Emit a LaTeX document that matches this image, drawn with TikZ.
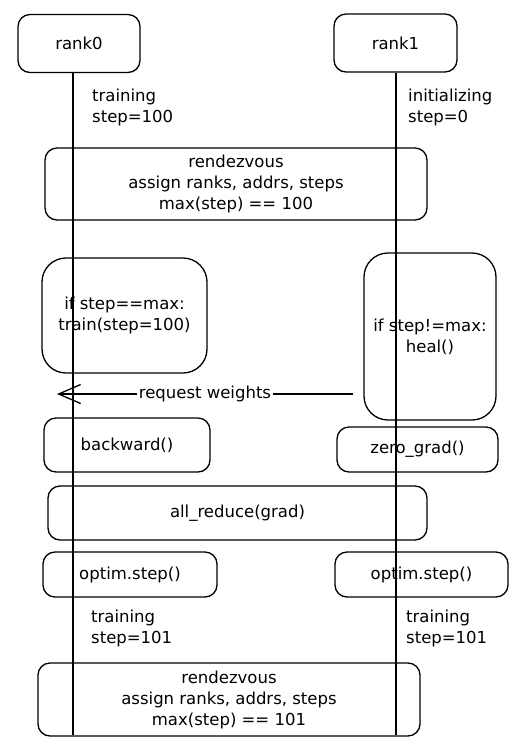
\documentclass[tikz,border=0pt]{standalone}
\usepackage{fontspec}
\setmainfont{DejaVu Sans}
\usetikzlibrary{arrows.meta, positioning}

\begin{document}
\begin{tikzpicture}[
    x=1pt, y=-1pt,
    every node/.style={font=\fontsize{16.5}{21}\selectfont},
    box/.style={draw, line width=1.3pt, rounded corners=12pt, align=center, inner sep=2pt},
    bigbox/.style={box, rounded corners=24pt},
    note/.style={anchor=north west, align=left, inner sep=0pt},
    life/.style={line width=1.3pt},
    msg/.style={-{Straight Barb[length=22pt, width=19pt, line width=1.3pt]}, line width=1.3pt},
    msglbl/.style={fill=white, inner sep=2pt}
]
\useasboundingbox (0,0) rectangle (519,748);

% participants
\node[box, minimum width=122, minimum height=58] (rank0) at (79, 43.5) {rank0};
\node[box, minimum width=123, minimum height=58] (rank1) at (395.5, 43) {rank1};
\coordinate (end0) at (73, 735);
\coordinate (end1) at (396, 735);

\node[note] (st0) at (92, 89) {training\\step=100};
\node[note] (st1) at (408, 89) {initializing\\step=0};

\node[box, minimum width=382, minimum height=72] (rdv1) at (236, 184)
    {rendezvous\\assign ranks, addrs, steps\\max(step) == 100};

\node[bigbox, minimum width=165, minimum height=115] (ifmax) at (124.5, 315.5)
    {if step==max:\\train(step=100)};
\node[bigbox, minimum width=132, minimum height=167] (ifnot) at (430, 336.5)
    {if step!=max:\\heal()};

\coordinate (rqfrom) at (353, 394);
\coordinate (rqto) at (57, 394);

\node[box, minimum width=166, minimum height=54] (bwd) at (127, 445) {backward()};
\node[box, minimum width=161, minimum height=45] (zero) at (417.5, 449.5) {zero\_grad()};

\node[box, minimum width=379, minimum height=54] (allred) at (237.5, 513) {all\_reduce(grad)};

\node[box, minimum width=174, minimum height=45] (opt0) at (130, 574.5) {optim.step()};
\node[box, minimum width=173, minimum height=45] (opt1) at (421.5, 574.5) {optim.step()};

\node[note] (nx0) at (91, 610) {training\\step=101};
\node[note] (nx1) at (406, 610) {training\\step=101};

\node[box, minimum width=382, minimum height=73] (rdv2) at (229, 699.5)
    {rendezvous\\assign ranks, addrs, steps\\max(step) == 101};

% lifelines
\draw[life] (end0 |- rank0.south) -- (end0);
\draw[life] (end1 |- rank1.south) -- (end1);

\draw[msg] (rqfrom) -- node[msglbl] {request weights} (rqto);

\end{tikzpicture}
\end{document}
